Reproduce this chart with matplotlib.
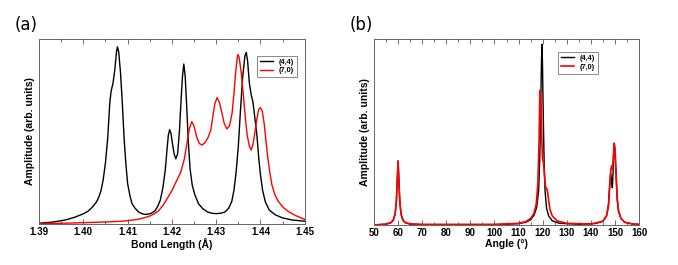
#!/usr/bin/env python3
"""Bond length and angle distributions for (4,4) and (7,0) tubes."""

import matplotlib
matplotlib.use("Agg")
import matplotlib.pyplot as plt
from matplotlib.ticker import MultipleLocator

# ---- panel (a): bond length distribution ----
bond_44_x = [1.390, 1.393, 1.396, 1.398, 1.400, 1.401, 1.402, 1.403, 1.4035, 1.404,
             1.4045, 1.405, 1.4055, 1.406, 1.4063, 1.4067, 1.4071, 1.4075, 1.4077, 1.4080,
             1.4084, 1.4088, 1.4092, 1.4096, 1.410, 1.4105, 1.411, 1.4117, 1.4125, 1.4133,
             1.4140, 1.4148, 1.4155, 1.4162, 1.4168, 1.4174, 1.4180, 1.4185, 1.4189, 1.4192,
             1.4195, 1.4198, 1.4201, 1.4205, 1.4209, 1.4213, 1.4217, 1.4221, 1.4224, 1.4227,
             1.4230, 1.4233, 1.4237, 1.4241, 1.4246, 1.4252, 1.4260, 1.4270, 1.4280, 1.4290,
             1.4300, 1.4310, 1.4320, 1.4328, 1.4335, 1.4340, 1.4345, 1.4350, 1.4355, 1.4360,
             1.4365, 1.4368, 1.4371, 1.4375, 1.4379, 1.4383, 1.4387, 1.4392, 1.4396, 1.4400,
             1.4405, 1.4411, 1.4420, 1.4434, 1.4450, 1.4471, 1.4500]
bond_44_y = [0.004, 0.010, 0.022, 0.036, 0.055, 0.068, 0.090, 0.120, 0.145, 0.18,
             0.24, 0.33, 0.46, 0.66, 0.72, 0.76, 0.83, 0.93, 0.958, 0.93,
             0.82, 0.66, 0.47, 0.33, 0.22, 0.157, 0.11, 0.085, 0.065, 0.055,
             0.052, 0.054, 0.060, 0.072, 0.095, 0.13, 0.20, 0.29, 0.40, 0.48,
             0.51, 0.49, 0.44, 0.38, 0.352, 0.38, 0.50, 0.68, 0.80, 0.865,
             0.80, 0.66, 0.45, 0.30, 0.21, 0.157, 0.11, 0.082, 0.066, 0.058,
             0.056, 0.058, 0.065, 0.085, 0.12, 0.18, 0.28, 0.42, 0.62, 0.80,
             0.91, 0.928, 0.88, 0.76, 0.70, 0.66, 0.58, 0.48, 0.36, 0.265,
             0.18, 0.12, 0.075, 0.049, 0.033, 0.022, 0.015]

bond_70_x = [1.390, 1.395, 1.400, 1.405, 1.408, 1.410, 1.412, 1.4135, 1.415, 1.416,
             1.417, 1.418, 1.419, 1.420, 1.421, 1.422, 1.4228, 1.4235, 1.4240, 1.4245,
             1.4250, 1.4256, 1.4262, 1.4268, 1.4275, 1.4282, 1.4288, 1.4293, 1.4297, 1.4302,
             1.4307, 1.4313, 1.4318, 1.4324, 1.4330, 1.4336, 1.4340, 1.4344, 1.4347, 1.4349,
             1.4352, 1.4357, 1.4362, 1.4366, 1.4370, 1.4375, 1.4379, 1.4383, 1.4387, 1.4392,
             1.4396, 1.4400, 1.4404, 1.4408, 1.4412, 1.4416, 1.4421, 1.4426, 1.4433, 1.4441,
             1.4452, 1.4464, 1.4480, 1.4500]
bond_70_y = [0.002, 0.004, 0.007, 0.011, 0.014, 0.018, 0.024, 0.032, 0.043, 0.055,
             0.072, 0.10, 0.14, 0.18, 0.23, 0.28, 0.35, 0.45, 0.52, 0.553,
             0.53, 0.47, 0.435, 0.427, 0.44, 0.47, 0.51, 0.59, 0.65, 0.683,
             0.66, 0.60, 0.545, 0.514, 0.53, 0.60, 0.70, 0.82, 0.89, 0.917,
             0.90, 0.81, 0.68, 0.57, 0.48, 0.42, 0.40, 0.43, 0.49, 0.57,
             0.62, 0.629, 0.61, 0.55, 0.46, 0.37, 0.28, 0.21, 0.155, 0.12,
             0.088, 0.066, 0.045, 0.025]

# ---- panel (b): bond angle distribution ----
angle_44_x = [50, 55, 57, 58, 58.8, 59.3, 59.7, 60.0, 60.3, 60.7,
              61.2, 62, 63, 65, 70, 100, 110, 113, 115, 116.5,
              117.5, 118.3, 118.8, 119.2, 119.5, 119.7, 119.9, 120.2, 120.6, 121.0,
              121.6, 122.5, 124, 127, 135, 142, 145, 146.5, 147.3, 147.8,
              148.2, 148.6, 148.9, 149.2, 149.5, 149.7, 150.0, 150.4, 150.9, 151.5,
              152.5, 154, 157, 160]
angle_44_y = [0.0, 0.004, 0.012, 0.025, 0.06, 0.13, 0.25, 0.344, 0.25, 0.13,
              0.06, 0.025, 0.012, 0.005, 0.002, 0.002, 0.007, 0.015, 0.028, 0.055,
              0.095, 0.18, 0.36, 0.66, 0.88, 0.971, 0.88, 0.62, 0.34, 0.18,
              0.09, 0.048, 0.022, 0.009, 0.004, 0.008, 0.02, 0.05, 0.11, 0.22,
              0.28, 0.24, 0.20, 0.28, 0.40, 0.43, 0.40, 0.28, 0.14, 0.07,
              0.035, 0.015, 0.006, 0.003]

angle_70_x = [50, 55, 57, 58, 58.8, 59.3, 59.7, 60.0, 60.3, 60.7,
              61.2, 62, 63, 65, 70, 100, 110, 113, 115, 116.3,
              117.3, 118.0, 118.5, 118.8, 119.0, 119.3, 119.6, 119.9, 120.2, 120.4,
              120.7, 121.1, 121.6, 121.9, 122.3, 123, 124, 126, 130, 140,
              145, 146.5, 147.3, 147.8, 148.3, 148.7, 149.0, 149.3, 149.7, 150.0,
              150.4, 150.9, 151.5, 152.5, 154, 157, 160]
angle_70_y = [0.0, 0.005, 0.013, 0.027, 0.062, 0.13, 0.25, 0.344, 0.25, 0.13,
              0.062, 0.027, 0.013, 0.006, 0.003, 0.003, 0.009, 0.018, 0.035, 0.06,
              0.11, 0.22, 0.45, 0.68, 0.726, 0.66, 0.48, 0.36, 0.34, 0.33,
              0.27, 0.21, 0.195, 0.188, 0.15, 0.085, 0.048, 0.022, 0.009, 0.005,
              0.02, 0.05, 0.10, 0.20, 0.30, 0.32, 0.30, 0.36, 0.44, 0.41,
              0.30, 0.15, 0.075, 0.035, 0.015, 0.006, 0.003]

labels = ["(4,4)", "(7,0)"]

plt.rcParams["font.family"] = ["Liberation Sans", "DejaVu Sans"]


def style_axes(ax, major, minor):
    ax.xaxis.set_major_locator(MultipleLocator(major))
    ax.xaxis.set_minor_locator(MultipleLocator(minor))
    ax.tick_params(axis="x", which="both", direction="in", top=True,
                   labelsize=7, color="#555555", width=0.6, pad=2)
    ax.tick_params(axis="x", which="major", length=3.5)
    ax.tick_params(axis="x", which="minor", length=2)
    ax.set_yticks([])
    for sp in ax.spines.values():
        sp.set_color("#666666")
        sp.set_linewidth(0.7)
    ax.set_ylabel("Amplitude (arb. units)", fontsize=7.5, fontweight="bold", labelpad=3)
    ax.set_ylim(0, 1.0)


def add_legend(ax, anchor):
    leg = ax.legend(loc="upper right", bbox_to_anchor=anchor,
                    prop={"size": 5.3, "weight": "bold"},
                    frameon=True, fancybox=False, edgecolor="#555555",
                    handlelength=1.7, borderpad=0.4, labelspacing=0.2,
                    handletextpad=0.8, borderaxespad=0)
    leg.get_frame().set_linewidth(0.6)


fig = plt.figure(figsize=(6.78, 2.65), dpi=100)

# (a)
ax1 = fig.add_axes([0.0575, 0.1547, 0.392, 0.698])
ax1.plot(bond_44_x, bond_44_y, color="black", lw=1.0, label=labels[0])
ax1.plot(bond_70_x, bond_70_y, color="red", lw=1.0, label=labels[1])
ax1.set_xlim(1.39, 1.45)
style_axes(ax1, 0.01, 0.005)
ax1.set_xticks([1.39, 1.40, 1.41, 1.42, 1.43, 1.44, 1.45])
ax1.set_xticklabels(["1.39", "1.40", "1.41", "1.42", "1.43", "1.44", "1.45"])
for lab in ax1.get_xticklabels():
    lab.set_fontweight("bold")
ax1.set_xlabel("Bond Length (Å)", fontsize=7.5, fontweight="bold", labelpad=1)
add_legend(ax1, (0.97, 0.91))
fig.text(0.022, 0.885, "(a)", fontsize=12, family="DejaVu Sans")

# (b)
ax2 = fig.add_axes([0.5516, 0.151, 0.391, 0.702])
ax2.plot(angle_44_x, angle_44_y, color="black", lw=1.0, label=labels[0])
ax2.plot(angle_70_x, angle_70_y, color="red", lw=1.2, label=labels[1])
ax2.set_xlim(50, 160)
style_axes(ax2, 10, 5)
for lab in ax2.get_xticklabels():
    lab.set_fontweight("bold")
ax2.set_xlabel("Angle (°)", fontsize=7.5, fontweight="bold", labelpad=1)
add_legend(ax2, (0.845, 0.93))
fig.text(0.516, 0.885, "(b)", fontsize=12, family="DejaVu Sans")

fig.savefig("out.png", dpi=100)
